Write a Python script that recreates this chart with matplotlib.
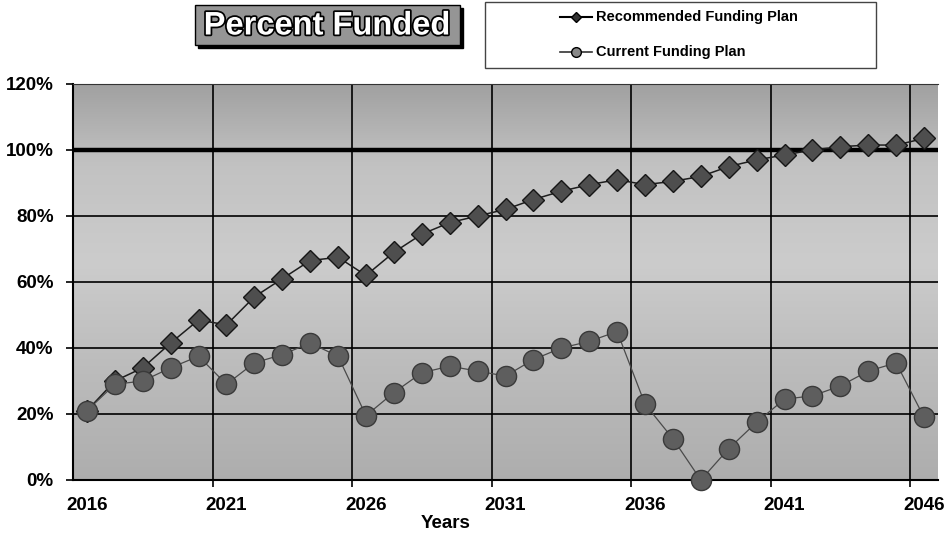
import numpy as np
import matplotlib
matplotlib.use("Agg")
from matplotlib import pyplot as plt
from matplotlib.patches import Rectangle
from matplotlib.lines import Line2D
import matplotlib.patheffects as pe

plt.rcParams['font.family'] = ['Liberation Sans', 'DejaVu Sans']

# funding levels by year, in percent
years = list(range(2016, 2047))
recommended = [21, 30, 34, 41.5, 48.5, 47, 55.5, 61, 66.5, 67.5, 62, 69, 74.5, 78, 80, 82,
               85, 87.5, 89.5, 91, 89.5, 90.5, 92, 95, 97, 98.5, 100, 101, 101.5, 101.5, 103.5]
current = [21, 29, 30, 34, 37.5, 29, 35.5, 38, 41.5, 37.5, 19.5, 26.5, 32.5, 34.5, 33, 31.5,
           36.5, 40, 42, 45, 23, 12.5, 0, 9.5, 17.5, 24.5, 25.5, 28.5, 33, 35.5, 19]
year_labels = ['2016', '2021', '2026', '2031', '2036', '2041', '2046']
pct_ticks = [0, 20, 40, 60, 80, 100, 120]

W, H = 948, 535
fig = plt.figure(figsize=(W / 100, H / 100), dpi=100)
ax = fig.add_axes([73 / W, 1 - 480 / H, 865 / W, 396 / H])

# shaded plot area: darker at top, lighter in the middle
stops = np.array([0.0, 0.3, 0.55, 0.8, 1.0])
levels = np.array([0.68, 0.74, 0.80, 0.76, 0.63])
g = np.interp(np.linspace(0, 1, 256), stops, levels)[:, None]
ax.imshow(np.dstack([g, g, g]), extent=[0, 1, 0, 1], transform=ax.transAxes,
          origin='lower', aspect='auto', zorder=0)

ax.set_xlim(2015.5, 2046.5)
ax.set_ylim(0, 120)

# gridlines between year groups, every 5 years
ax.set_xticks([int(s) for s in year_labels])
ax.set_xticklabels(year_labels, fontsize=13.5, fontweight='bold')
ax.set_xticks(np.arange(2020.5, 2046, 5), minor=True)
ax.tick_params(axis='x', which='major', length=0, pad=12)
ax.tick_params(axis='x', which='minor', length=5, width=1.2, direction='out')
ax.grid(True, axis='x', which='minor', color='black', lw=1.2, zorder=1)

ax.set_yticks(pct_ticks)
ax.set_yticklabels([f'{t}%' for t in pct_ticks], fontsize=13.5, fontweight='bold')
ax.tick_params(axis='y', length=5, width=1.2, direction='out', pad=9)
ax.grid(True, axis='y', color='black', lw=1.2, zorder=1)
ax.axhline(100, color='black', lw=3.2, zorder=2)

for s in ['left', 'bottom']:
    ax.spines[s].set_linewidth(1.5)
ax.spines['top'].set_color('#333333')
ax.spines['right'].set_visible(False)

ax.plot(years, recommended, color='#1e1e1e', lw=1.1, marker='D', markersize=11,
        markerfacecolor='#4e4e4e', markeredgecolor='#161616', markeredgewidth=1.0,
        zorder=3, clip_on=False)
ax.plot(years, current, color='#4a4a4a', lw=0.9, marker='o', markersize=14.5,
        markerfacecolor='#5e5e5e', markeredgecolor='#3a3a3a', markeredgewidth=1.0,
        zorder=4, clip_on=False)

fig.text(446 / W, 1 - 523 / H, 'Years', ha='center', va='center', fontsize=13.5, fontweight='bold')

# title box with drop shadow
fig.patches.append(Rectangle((198 / W, 1 - 48 / H), 265 / W, 40 / H, transform=fig.transFigure,
                             facecolor='black', edgecolor='black', zorder=1))
fig.patches.append(Rectangle((195 / W, 1 - 45 / H), 265 / W, 40 / H, transform=fig.transFigure,
                             facecolor='#959595', edgecolor='black', lw=1, zorder=2))
fig.text(327 / W, 1 - 26 / H, 'Percent Funded', ha='center', va='center', fontsize=23.5,
         fontweight='bold', color='white', zorder=3,
         path_effects=[pe.withStroke(linewidth=2.5, foreground='black')])

# legend
fig.patches.append(Rectangle((485 / W, 1 - 68 / H), 391 / W, 66 / H, transform=fig.transFigure,
                             facecolor='white', edgecolor='#444444', lw=1.0))
fig.lines.append(Line2D([560 / W, 576 / W, 592 / W], [1 - 17 / H] * 3, transform=fig.transFigure,
                        color='black', lw=1.5, marker='D', markevery=[1], markersize=5,
                        markerfacecolor='#333333', markeredgecolor='black'))
fig.lines.append(Line2D([560 / W, 576 / W, 592 / W], [1 - 52 / H] * 3, transform=fig.transFigure,
                        color='#333333', lw=1.2, marker='o', markevery=[1], markersize=7,
                        markerfacecolor='#888888', markeredgecolor='black'))
fig.text(596 / W, 1 - 17 / H, 'Recommended Funding Plan', ha='left', va='center',
         fontsize=10.5, fontweight='bold')
fig.text(596 / W, 1 - 52 / H, 'Current Funding Plan', ha='left', va='center',
         fontsize=10.5, fontweight='bold')

fig.savefig('out.png', dpi=100)
